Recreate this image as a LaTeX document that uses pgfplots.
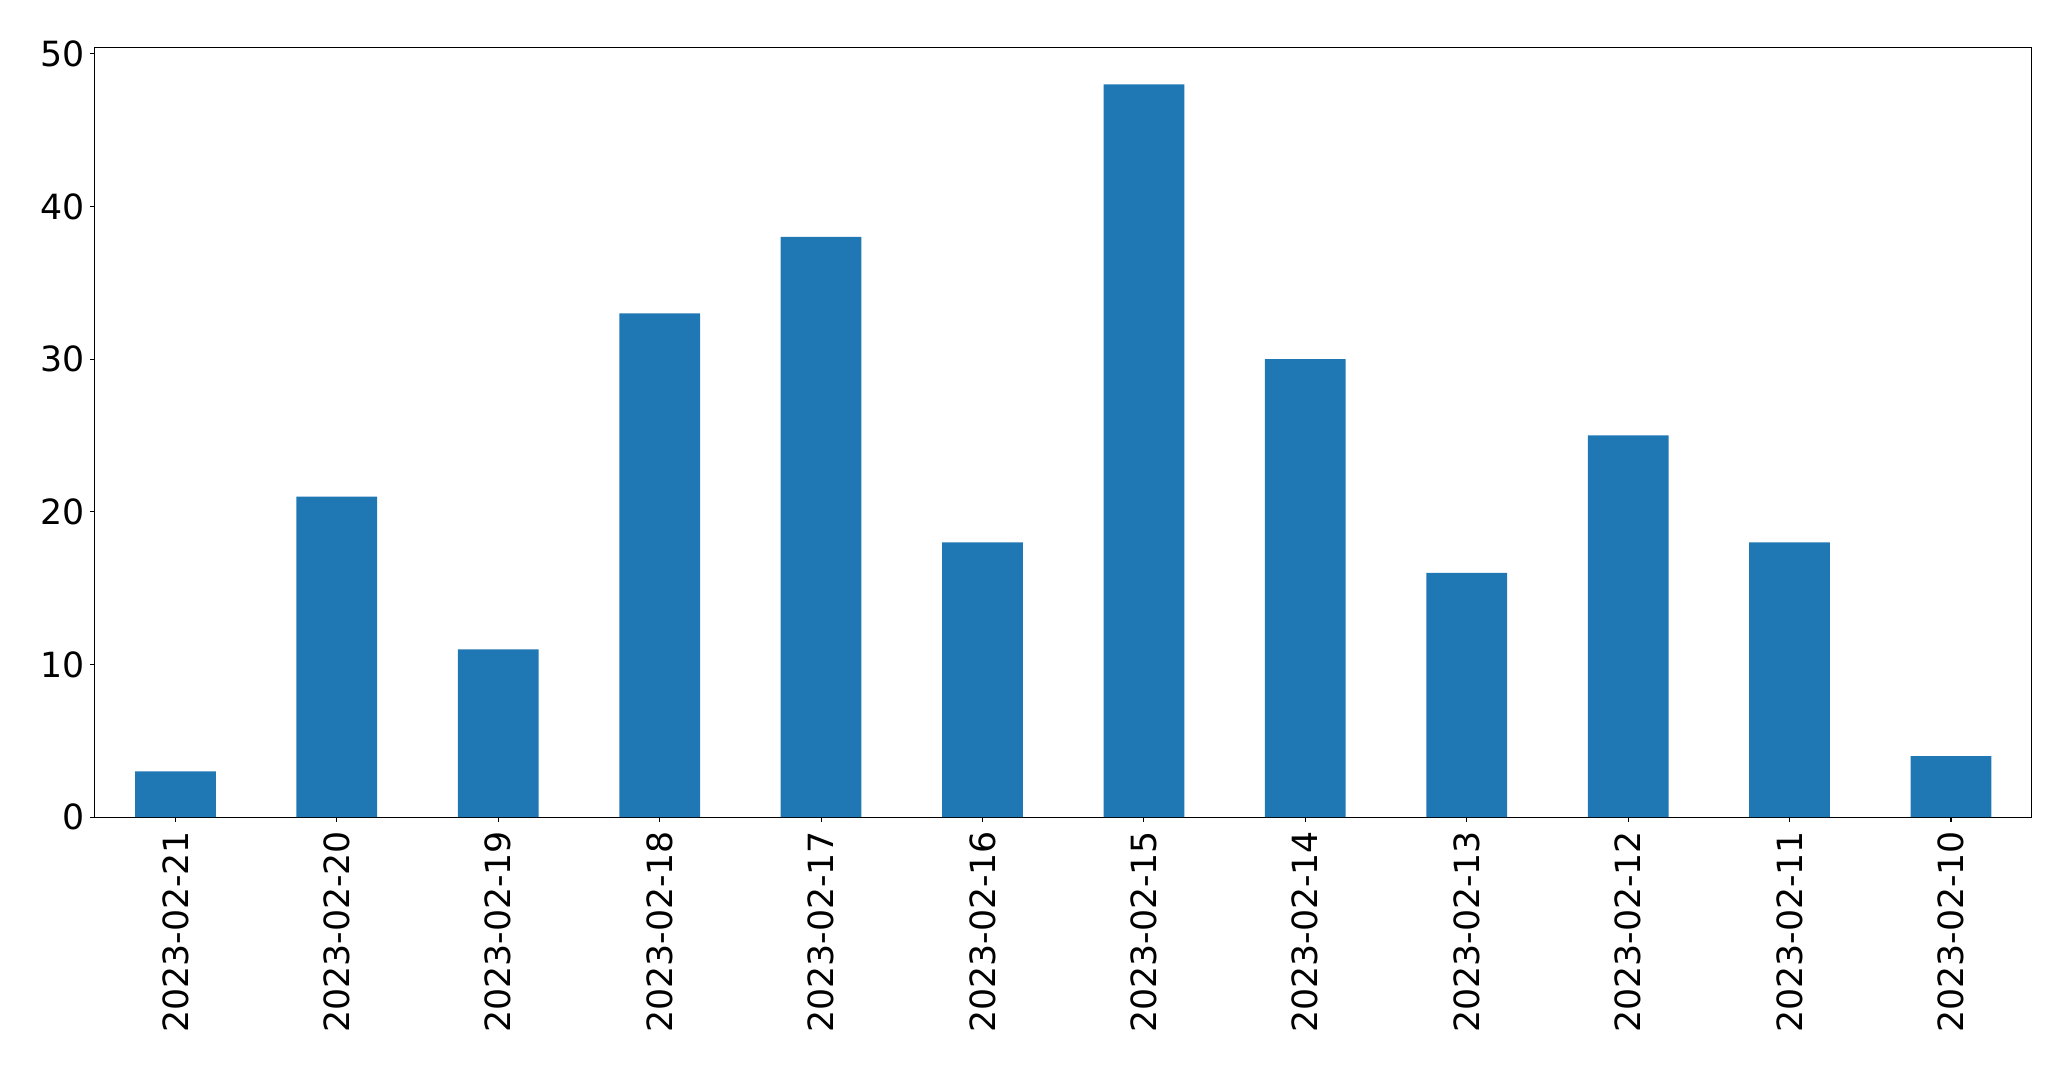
\documentclass[border=0pt]{standalone}
\usepackage{fontspec}
\setmainfont{DejaVu Sans}
\usepackage{pgfplots}
\pgfplotsset{compat=1.18}
\definecolor{tabblue}{HTML}{1F77B4}
\begin{document}
\fontsize{25}{30}\selectfont
\begin{tikzpicture}
\begin{axis}[
  scale only axis,
  width=1394.6pt, height=554.1pt,
  xmin=-0.5, xmax=11.5, ymin=0, ymax=50.4,
  axis line style={line width=0.8pt},
  tick style={line width=0.8pt, black},
  tick align=outside,
  major tick length=3.5pt,
  xtick=data,
  xticklabels={2023-02-21,2023-02-20,2023-02-19,2023-02-18,2023-02-17,2023-02-16,2023-02-15,2023-02-14,2023-02-13,2023-02-12,2023-02-11,2023-02-10},
  ytick={0,10,20,30,40,50},
  xtick pos=bottom, ytick pos=left,
  /pgf/number format/assume math mode=true,
  ticklabel style={font=\fontsize{25}{30}\selectfont},
  xticklabel style={rotate=90, anchor=east, inner sep=0pt, xshift=-6.2pt},
  yticklabel style={anchor=east, inner sep=0pt, xshift=-3.5pt},
]
\addplot[ybar, bar width=0.5, fill=tabblue, draw=none] coordinates {
(0,3) (1,21) (2,11) (3,33) (4,38) (5,18) (6,48) (7,30) (8,16) (9,25) (10,18) (11,4)
};
\end{axis}
\pgfresetboundingbox
\path[use as bounding box] ([xshift=-68.2pt,yshift=-181.2pt]current axis.south west) rectangle ([xshift=28.3pt,yshift=34.3pt]current axis.north east);
\end{tikzpicture}
\end{document}
